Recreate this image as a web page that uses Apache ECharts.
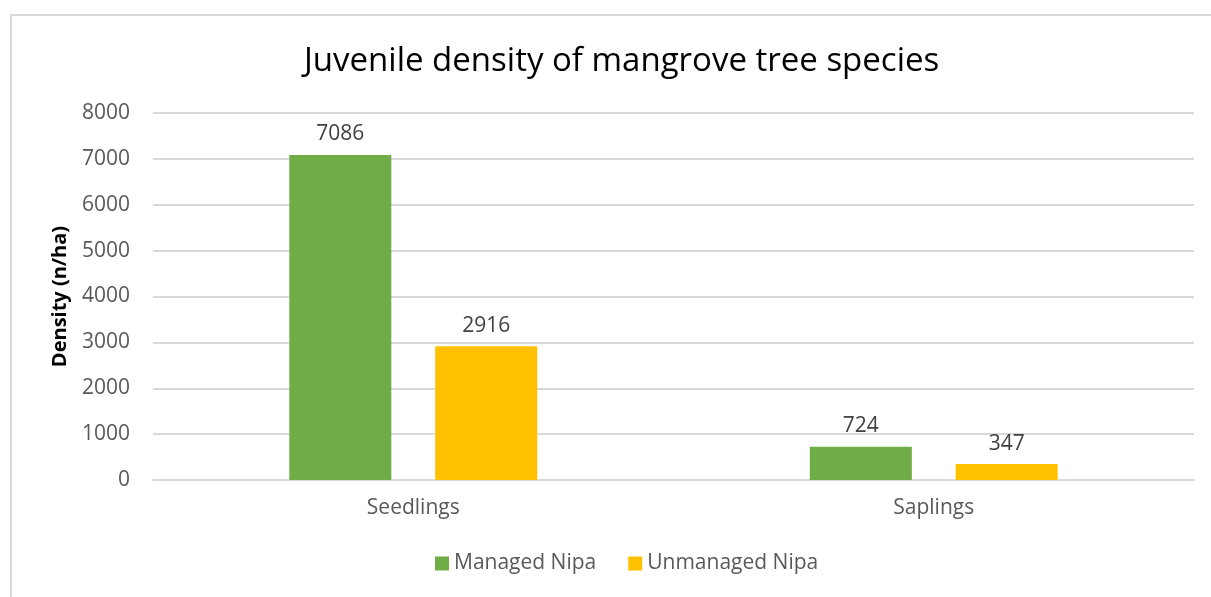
<!DOCTYPE html>
<html>
<head>
<meta charset="utf-8">
<script src="https://cdn.jsdelivr.net/npm/echarts@6/dist/echarts.min.js"></script>
<style>
  html, body { margin: 0; padding: 0; background: #fff; }
  #frame {
    position: absolute; left: 10px; top: 14px; width: 1220px; height: 600px;
    border-left: 2px solid #d9d9d9; border-top: 2px solid #d9d9d9;
  }
  #chart { position: absolute; left: 0; top: 0; width: 1211px; height: 597px; }
</style>
</head>
<body>
<div id="frame"></div>
<div id="chart"></div>
<script>
var categories = ["Seedlings", "Saplings"];
var managedNipa = [7086, 724];
var unmanagedNipa = [2916, 347];

var font = "'Open Sans', 'Liberation Sans', sans-serif";
var myChart = echarts.init(document.getElementById("chart"));
var option = {
  animation: false,
  textStyle: { fontFamily: font },
  title: {
    text: "Juvenile density of mangrove tree species",
    left: 299,
    top: 40,
    textStyle: { fontSize: 33, fontWeight: "normal", color: "#000", fontFamily: font }
  },
  legend: {
    bottom: 18,
    left: 430,
    itemWidth: 14,
    itemHeight: 14,
    itemGap: 32,
    icon: "rect",
    textStyle: { fontSize: 21, color: "#595959", fontFamily: font },
    data: ["Managed Nipa", "Unmanaged Nipa"]
  },
  grid: { left: 153, right: 17, top: 113, bottom: 117 },
  xAxis: {
    type: "category",
    data: categories,
    axisLine: { lineStyle: { color: "#d9d9d9", width: 2 } },
    axisTick: { show: false },
    axisLabel: { fontSize: 21, color: "#595959", margin: 18, fontFamily: font }
  },
  yAxis: {
    type: "value",
    min: 0,
    max: 8000,
    interval: 1000,
    name: "Density (n/ha)",
    nameLocation: "middle",
    nameGap: 83,
    nameTextStyle: { fontSize: 20, fontWeight: "bold", color: "#000", fontFamily: font },
    axisLine: { show: false },
    axisTick: { show: false },
    axisLabel: { fontSize: 21, color: "#595959", margin: 23, fontFamily: font, formatter: function (v) { return String(v); } },
    splitLine: { lineStyle: { color: "#d9d9d9", width: 2 } }
  },
  series: [
    {
      name: "Managed Nipa",
      type: "bar",
      data: managedNipa,
      barWidth: "19.6%",
      barGap: "43%",
      itemStyle: { color: "#70AD47" },
      label: { show: true, position: "top", distance: 10, fontSize: 21, color: "#404040", fontFamily: font }
    },
    {
      name: "Unmanaged Nipa",
      type: "bar",
      data: unmanagedNipa,
      barWidth: "19.6%",
      barGap: "43%",
      itemStyle: { color: "#FFC000" },
      label: { show: true, position: "top", distance: 10, fontSize: 21, color: "#404040", fontFamily: font }
    }
  ]
};
myChart.setOption(option);
</script>
</body>
</html>
